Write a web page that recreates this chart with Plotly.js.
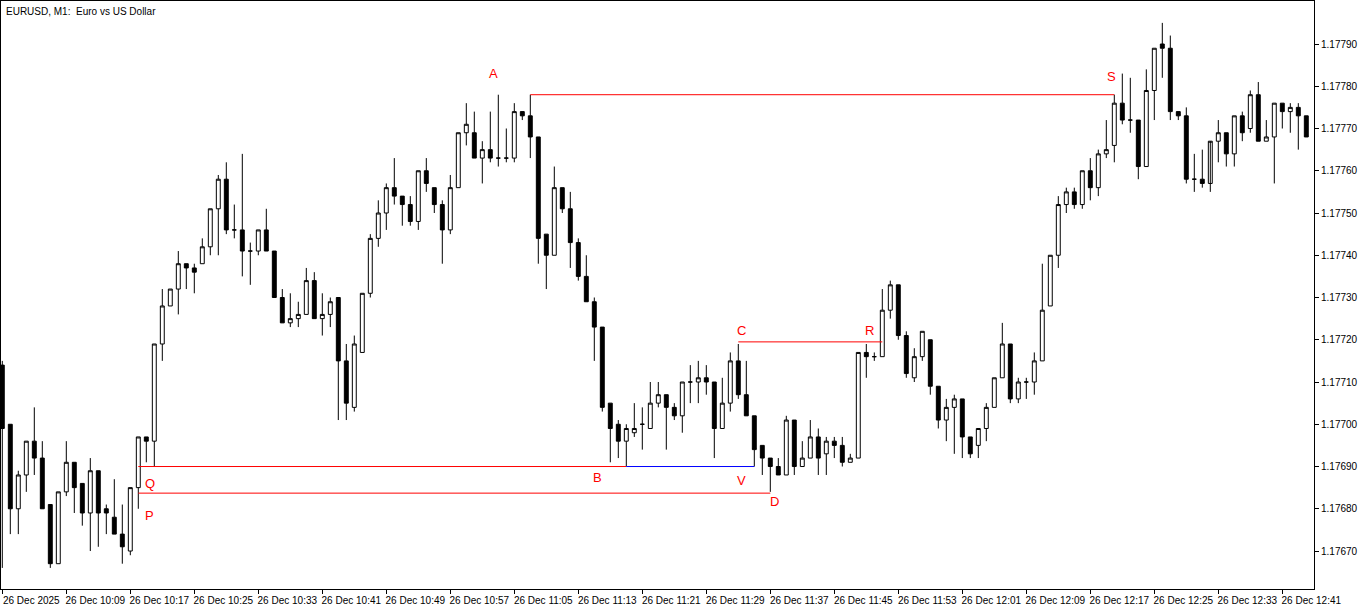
<!DOCTYPE html>
<html><head><meta charset="utf-8">
<script src="https://cdn.plot.ly/plotly-3.0.1.min.js"></script>
<style>html,body{margin:0;padding:0;background:#fff;}#chart{width:1366px;height:611px;}</style>
</head><body><div id="chart"></div>
<script>
const symbolTitle = "EURUSD, M1:\u00a0 Euro vs US Dollar";
const tickLabels = ["26 Dec 2025","26 Dec 10:09","26 Dec 10:17","26 Dec 10:25","26 Dec 10:33","26 Dec 10:41","26 Dec 10:49","26 Dec 10:57","26 Dec 11:05","26 Dec 11:13","26 Dec 11:21","26 Dec 11:29","26 Dec 11:37","26 Dec 11:45","26 Dec 11:53","26 Dec 12:01","26 Dec 12:09","26 Dec 12:17","26 Dec 12:25","26 Dec 12:33","26 Dec 12:41"];
const priceTicks = [1.17670,1.17680,1.17690,1.17700,1.17710,1.17720,1.17730,1.17740,1.17750,1.17760,1.17770,1.17780,1.17790];

const openP = [
1.17714,1.17700,1.17680,1.17688,1.17696,1.17692,1.17681,1.17667,1.17684,1.17691,
1.17686,1.17679,1.17689,1.17680,1.17678,1.17674,1.17670,1.17685,1.17697,1.17696,
1.17719,1.17728,1.17732,1.17738,1.17737,1.17738,1.17742,1.17751,1.17758,1.17746,
1.17746,1.17741,1.17741,1.17746,1.17741,1.17730,1.17724,1.17725,1.17726,1.17734,
1.17725,1.17726,1.17730,1.17715,1.17704,1.17717,1.17731,1.17744,1.17750,1.17756,
1.17754,1.17752,1.17748,1.17760,1.17756,1.17752,1.17746,1.17756,1.17769,1.17769,
1.17763,1.17765,1.17763,1.17763,1.17763,1.17774,1.17773,1.17768,1.17745,1.17740,
1.17756,1.17751,1.17743,1.17735,1.17729,1.17723,1.17705,1.17700,1.17696,1.17698,
1.17700,1.17699,1.17705,1.17707,1.17704,1.17702,1.17710,1.17710,1.17711,1.17710,
1.17699,1.17705,1.17715,1.17707,1.17702,1.17695,1.17692,1.17690,1.17688,1.17701,
1.17690,1.17692,1.17697,1.17693,1.17696,1.17695,1.17691,1.17692,1.17717,1.17716,
1.17716,1.17727,1.17733,1.17721,1.17711,1.17716,1.17720,1.17709,1.17701,1.17704,
1.17706,1.17697,1.17695,1.17699,1.17704,1.17711,1.17719,1.17706,1.17710,1.17710,
1.17715,1.17728,1.17740,1.17752,1.17755,1.17752,1.17760,1.17756,1.17764,1.17766,
1.17776,1.17772,1.17772,1.17761,1.17779,1.17790,1.17789,1.17774,1.17773,1.17758,
1.17758,1.17757,1.17767,1.17769,1.17764,1.17773,1.17770,1.17778,1.17767,1.17768,
1.17776,1.17774,1.17775,1.17773];
const highP = [
1.17715,1.17700,1.17689,1.17696,1.17704,1.17696,1.17681,1.17684,1.17696,1.17691,
1.17686,1.17692,1.17689,1.17681,1.17687,1.17681,1.17685,1.17697,1.17697,1.17719,
1.17732,1.17732,1.17741,1.17738,1.17738,1.17744,1.17751,1.17759,1.17762,1.17752,
1.17764,1.17743,1.17746,1.17751,1.17741,1.17732,1.17731,1.17729,1.17737,1.17736,
1.17731,1.17730,1.17730,1.17719,1.17721,1.17731,1.17745,1.17753,1.17757,1.17763,
1.17754,1.17754,1.17760,1.17763,1.17756,1.17753,1.17759,1.17769,1.17776,1.17774,
1.17767,1.17774,1.17778,1.17770,1.17776,1.17774,1.17778,1.17768,1.17745,1.17761,
1.17756,1.17755,1.17744,1.17740,1.17730,1.17723,1.17705,1.17701,1.17700,1.17705,
1.17704,1.17710,1.17710,1.17707,1.17705,1.17710,1.17714,1.17715,1.17714,1.17710,
1.17711,1.17717,1.17719,1.17715,1.17702,1.17695,1.17692,1.17692,1.17702,1.17701,
1.17696,1.17701,1.17699,1.17697,1.17697,1.17697,1.17693,1.17717,1.17719,1.17717,
1.17732,1.17734,1.17733,1.17722,1.17718,1.17722,1.17720,1.17709,1.17706,1.17707,
1.17706,1.17697,1.17699,1.17705,1.17711,1.17724,1.17719,1.17711,1.17711,1.17717,
1.17738,1.17740,1.17754,1.17756,1.17756,1.17760,1.17763,1.17765,1.17772,1.17778,
1.17783,1.17782,1.17772,1.17784,1.17789,1.17795,1.17792,1.17774,1.17775,1.17764,
1.17765,1.17757,1.17772,1.17769,1.17773,1.17774,1.17779,1.17781,1.17772,1.17776,
1.17776,1.17776,1.17776,1.17773];
const lowP = [
1.17666,1.17674,1.17674,1.17684,1.17688,1.17680,1.17666,1.17667,1.17683,1.17679,
1.17676,1.17670,1.17671,1.17674,1.17674,1.17667,1.17669,1.17680,1.17691,1.17690,
1.17715,1.17728,1.17726,1.17732,1.17731,1.17738,1.17740,1.17740,1.17745,1.17744,
1.17735,1.17733,1.17740,1.17741,1.17730,1.17724,1.17723,1.17723,1.17726,1.17725,
1.17721,1.17723,1.17701,1.17701,1.17703,1.17717,1.17730,1.17742,1.17746,1.17752,
1.17747,1.17747,1.17746,1.17755,1.17750,1.17738,1.17745,1.17756,1.17766,1.17763,
1.17757,1.17762,1.17761,1.17762,1.17762,1.17772,1.17763,1.17738,1.17732,1.17740,
1.17750,1.17737,1.17734,1.17729,1.17715,1.17703,1.17691,1.17692,1.17690,1.17697,
1.17694,1.17699,1.17704,1.17694,1.17701,1.17698,1.17705,1.17705,1.17707,1.17692,
1.17699,1.17703,1.17706,1.17702,1.17690,1.17688,1.17684,1.17688,1.17688,1.17688,
1.17690,1.17692,1.17688,1.17688,1.17692,1.17690,1.17691,1.17692,1.17711,1.17715,
1.17716,1.17725,1.17720,1.17711,1.17710,1.17715,1.17707,1.17699,1.17696,1.17693,
1.17692,1.17692,1.17692,1.17696,1.17704,1.17711,1.17705,1.17705,1.17706,1.17707,
1.17715,1.17728,1.17737,1.17750,1.17751,1.17751,1.17753,1.17754,1.17763,1.17762,
1.17771,1.17769,1.17758,1.17761,1.17772,1.17782,1.17772,1.17772,1.17757,1.17755,
1.17756,1.17755,1.17762,1.17761,1.17761,1.17767,1.17769,1.17767,1.17767,1.17757,
1.17770,1.17769,1.17765,1.17768];
const closeP = [
1.17699,1.17680,1.17688,1.17696,1.17692,1.17680,1.17667,1.17684,1.17691,1.17685,
1.17679,1.17689,1.17679,1.17679,1.17674,1.17671,1.17685,1.17697,1.17696,1.17719,
1.17728,1.17732,1.17738,1.17737,1.17736,1.17742,1.17751,1.17758,1.17746,1.17746,
1.17741,1.17741,1.17746,1.17741,1.17730,1.17724,1.17725,1.17726,1.17734,1.17725,
1.17726,1.17729,1.17715,1.17705,1.17719,1.17731,1.17744,1.17750,1.17756,1.17754,
1.17752,1.17748,1.17760,1.17757,1.17752,1.17746,1.17756,1.17769,1.17771,1.17763,
1.17765,1.17763,1.17763,1.17763,1.17774,1.17773,1.17768,1.17744,1.17740,1.17756,
1.17751,1.17743,1.17735,1.17729,1.17723,1.17704,1.17699,1.17696,1.17699,1.17699,
1.17700,1.17705,1.17707,1.17704,1.17702,1.17710,1.17710,1.17711,1.17710,1.17699,
1.17705,1.17715,1.17707,1.17702,1.17694,1.17692,1.17690,1.17688,1.17701,1.17690,
1.17692,1.17697,1.17692,1.17696,1.17695,1.17691,1.17692,1.17717,1.17716,1.17716,
1.17727,1.17733,1.17721,1.17712,1.17716,1.17722,1.17709,1.17701,1.17704,1.17706,
1.17697,1.17693,1.17699,1.17704,1.17711,1.17719,1.17706,1.17710,1.17710,1.17715,
1.17727,1.17740,1.17752,1.17755,1.17752,1.17760,1.17756,1.17764,1.17765,1.17776,
1.17772,1.17772,1.17761,1.17779,1.17789,1.17789,1.17774,1.17773,1.17758,1.17758,
1.17757,1.17767,1.17769,1.17764,1.17773,1.17769,1.17778,1.17767,1.17768,1.17776,
1.17774,1.17775,1.17773,1.17768];

// pattern level lines (candle index start/end, price)
const levelNames = ["A-S","C-R","Q-B","B-V","P-D"];
const levelStart = [66, 92, 17, 78, 17];
const levelEnd = [139, 110, 78, 94, 96];
const levelPrice = [1.17778, 1.177195, 1.17690, 1.17690, 1.176837];
// pattern point labels
const pointNames = ["A","S","C","R","Q","B","V","P","D"];
const pointIdx = [61.4, 138.6, 92.4, 108.4, 18.5, 74.4, 92.4, 18.4, 96.5];
const pointPrice = [1.177831, 1.177822, 1.177223, 1.177223, 1.176859, 1.176875, 1.176868, 1.176783, 1.176818];

const levelColors = ["#ff0000","#ff0000","#ff0000","#0000ff","#ff0000"];

const minuteIndex = openP.map((_, i) => i);
const tickPositions = tickLabels.map((_, i) => i * 8);

const trace = {
  type: 'candlestick',
  x: minuteIndex, open: openP, high: highP, low: lowP, close: closeP,
  increasing: {line: {color: '#000', width: 1}, fillcolor: '#ffffff'},
  decreasing: {line: {color: '#000', width: 1}, fillcolor: '#000000'},
  whiskerwidth: 0,
  hoverinfo: 'skip',
  showlegend: false
};

const shapes = levelNames.map((n, i) => ({
  type: 'line', xref: 'x', yref: 'y',
  x0: levelStart[i], x1: levelEnd[i], y0: levelPrice[i], y1: levelPrice[i],
  line: {color: levelColors[i], width: 1}
}));

const annotations = pointNames.map((n, i) => ({
  text: n, x: pointIdx[i], y: pointPrice[i], xref: 'x', yref: 'y',
  showarrow: false, xanchor: 'center', yanchor: 'middle',
  font: {family: 'Liberation Sans, Arial, sans-serif', size: 13, color: '#ff0000'}
}));
annotations.push({
  text: symbolTitle, xref: 'paper', yref: 'paper', x: 0, y: 1,
  xanchor: 'left', yanchor: 'top', xshift: 3, yshift: -3, showarrow: false,
  font: {family: 'Liberation Sans, Arial, sans-serif', size: 10, color: '#000'}
});

const layout = {
  width: 1366, height: 611,
  margin: {l: 1, r: 52, t: 1, b: 22, pad: 0},
  paper_bgcolor: '#ffffff', plot_bgcolor: '#ffffff',
  showlegend: false,
  font: {family: 'Liberation Sans, Arial, sans-serif', size: 10, color: '#000'},
  xaxis: {
    range: [-0.1625, 163.9625], tickmode: 'array', tickvals: tickPositions, ticktext: tickLabels,
    ticks: 'outside', ticklen: 4, tickcolor: '#000', tickwidth: 1, tickangle: 0,
    ticklabelshift: 29, ticklabelstandoff: -2,
    showgrid: false, zeroline: false, showline: true, mirror: true, linecolor: '#000', linewidth: 1,
    rangeslider: {visible: false}, fixedrange: true,
    tickfont: {family: 'Liberation Sans, Arial, sans-serif', size: 10, color: '#000'}
  },
  yaxis: {
    range: [1.1766101, 1.1780018], side: 'right', tickmode: 'array', tickvals: priceTicks,
    ticktext: priceTicks.map(v => v.toFixed(5)),
    ticks: 'outside', ticklen: 4, tickcolor: '#000', tickwidth: 1,
    showgrid: false, zeroline: false, showline: true, mirror: true, linecolor: '#000', linewidth: 1,
    fixedrange: true,
    tickfont: {family: 'Liberation Sans, Arial, sans-serif', size: 10, color: '#000'}
  },
  shapes: shapes,
  annotations: annotations
};

Plotly.newPlot('chart', [trace], layout, {staticPlot: true, displayModeBar: false});
</script>
</body></html>
